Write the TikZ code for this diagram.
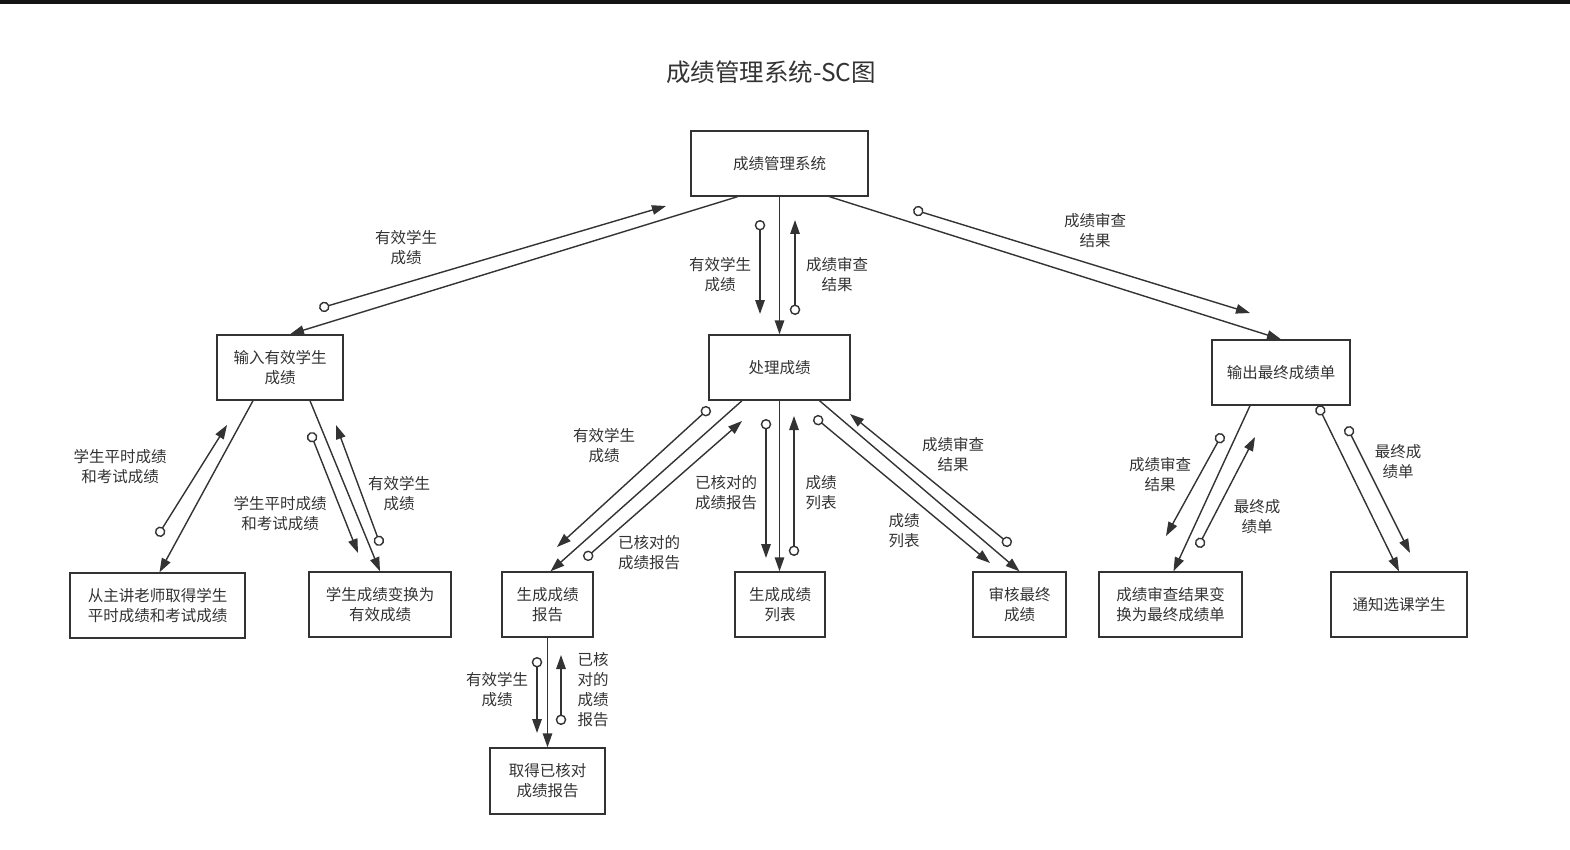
\documentclass[tikz,border=0pt]{standalone}
\usepackage{fontspec}
\setmainfont{Noto Sans CJK SC}
\usetikzlibrary{arrows.meta}
\definecolor{ln}{HTML}{333333}
\definecolor{tx}{HTML}{333333}
\begin{document}
\begin{tikzpicture}[x=1pt,y=-1pt,
 box/.style={draw=ln,line width=1.4pt,fill=white,inner sep=0pt,align=center,font=\fontsize{15.5}{20}\selectfont,text=tx},
 conn/.style={draw=ln,line width=1.4pt,-{Triangle[length=14pt,width=9.5pt]}},
 flow/.style={draw=ln,line width=1.4pt,shorten <=-5pt,{Circle[open,length=10.5pt,width=10.5pt]}-{Triangle[length=14pt,width=9.5pt]}},
 lbl/.style={align=center,font=\fontsize{15.5}{20}\selectfont,text=tx,inner sep=0pt}]
\fill[white] (0,0) rectangle (1570,850);
\useasboundingbox (0,0) rectangle (1570,850);
\fill[black!92] (0,0) rectangle (1570,4.5);

\node[text=tx,font=\fontsize{24.5}{28}\selectfont] (title) at (771,72) {成绩管理系统-SC图};

% boxes
\node[box,minimum width=177pt,minimum height=65pt] (A) at (779.5,163.5) {成绩管理系统};
\node[box,minimum width=126pt,minimum height=65pt] (B) at (280,367.5) {输入有效学生\\成绩};
\node[box,minimum width=141pt,minimum height=65pt] (C) at (779.5,367.5) {处理成绩};
\node[box,minimum width=138pt,minimum height=65pt] (D) at (1281,372.5) {输出最终成绩单};
\node[box,minimum width=175pt,minimum height=65pt] (E) at (157.5,605.5) {从主讲老师取得学生\\平时成绩和考试成绩};
\node[box,minimum width=142pt,minimum height=65pt] (F) at (380,604.5) {学生成绩变换为\\有效成绩};
\node[box,minimum width=91pt,minimum height=65pt] (G) at (547.5,604.5) {生成成绩\\报告};
\node[box,minimum width=90pt,minimum height=65pt] (H) at (780,604.5) {生成成绩\\列表};
\node[box,minimum width=93pt,minimum height=65pt] (I) at (1019.5,604.5) {审核最终\\成绩};
\node[box,minimum width=143pt,minimum height=65pt] (J) at (1170.5,604.5) {成绩审查结果变\\换为最终成绩单};
\node[box,minimum width=136pt,minimum height=65pt] (K) at (1399,604.5) {通知选课学生};
\node[box,minimum width=115pt,minimum height=66pt] (L) at (547.5,781) {取得已核对\\成绩报告};

% structure connectors
\draw[conn] ([xshift=-42pt]A.south) -- ([xshift=10pt]B.north);
\draw[conn] (A.south) -- (C.north);
\draw[conn] ([xshift=50pt]A.south) -- (D.north);
\draw[conn] ([xshift=-27pt]B.south) -- ([xshift=2pt]E.north);
\draw[conn] ([xshift=30pt]B.south) -- (F.north);
\draw[conn] ([xshift=-37.5pt]C.south) -- ([xshift=3pt]G.north);
\draw[conn] (C.south) -- (C.south |- H.north);
\draw[conn] ([xshift=40pt]C.south) -- (I.north);
\draw[conn] ([xshift=-31pt]D.south) -- ([xshift=3pt]J.north);
\draw[conn,{Circle[open,length=10.5pt,width=10.5pt]}-{Triangle[length=14pt,width=9.5pt]}] ([xshift=37pt]D.south) -- (K.north);
\draw[conn] (G.south) -- (L.north);

% data flows
\coordinate (f1s) at (324,307); \coordinate (f1e) at (666,206);
\coordinate (f2s) at (760,225); \coordinate (f2e) at (760,314);
\coordinate (f3s) at (795,310); \coordinate (f3e) at (795,220);
\coordinate (f4s) at (918,211); \coordinate (f4e) at (1250,313);
\coordinate (f5s) at (160,532); \coordinate (f5e) at (227,425);
\coordinate (f6s) at (312,437); \coordinate (f6e) at (358,553);
\coordinate (f7s) at (379,541); \coordinate (f7e) at (336,425);
\coordinate (f8s) at (706,411); \coordinate (f8e) at (557,547);
\coordinate (f9s) at (588,556); \coordinate (f9e) at (742,421);
\coordinate (f10s) at (766,424); \coordinate (f10e) at (766,558);
\coordinate (f11s) at (794,551); \coordinate (f11e) at (794,416);
\coordinate (f12s) at (818,420); \coordinate (f12e) at (990,563);
\coordinate (f13s) at (1007,542); \coordinate (f13e) at (850,414);
\coordinate (f14s) at (1220,438); \coordinate (f14e) at (1166,536);
\coordinate (f15s) at (1200,543); \coordinate (f15e) at (1255,437);
\coordinate (f16s) at (1349,431); \coordinate (f16e) at (1410,553);
\coordinate (f17s) at (537,662); \coordinate (f17e) at (537,733);
\coordinate (f18s) at (561,720); \coordinate (f18e) at (561,655);
\foreach \i in {1,...,18} {\draw[flow] (f\i s) -- (f\i e);}

% labels
\node[lbl] (l1) at (406,248) {有效学生\\成绩};
\node[lbl] (l2) at (720,275) {有效学生\\成绩};
\node[lbl] (l3) at (837,275) {成绩审查\\结果};
\node[lbl] (l4) at (1095,231) {成绩审查\\结果};
\node[lbl] (l5) at (120,467) {学生平时成绩\\和考试成绩};
\node[lbl] (l6) at (280,514) {学生平时成绩\\和考试成绩};
\node[lbl] (l7) at (399,494) {有效学生\\成绩};
\node[lbl] (l8) at (604,446) {有效学生\\成绩};
\node[lbl] (l9) at (649,553) {已核对的\\成绩报告};
\node[lbl] (l10) at (726,493) {已核对的\\成绩报告};
\node[lbl] (l11) at (821,493) {成绩\\列表};
\node[lbl] (l12) at (904,531) {成绩\\列表};
\node[lbl] (l13) at (953,455) {成绩审查\\结果};
\node[lbl] (l14) at (1160,475) {成绩审查\\结果};
\node[lbl] (l15) at (1257,517) {最终成\\绩单};
\node[lbl] (l16) at (1398,462) {最终成\\绩单};
\node[lbl] (l17) at (497,690) {有效学生\\成绩};
\node[lbl] (l18) at (593,690) {已核\\对的\\成绩\\报告};
\end{tikzpicture}
\end{document}
